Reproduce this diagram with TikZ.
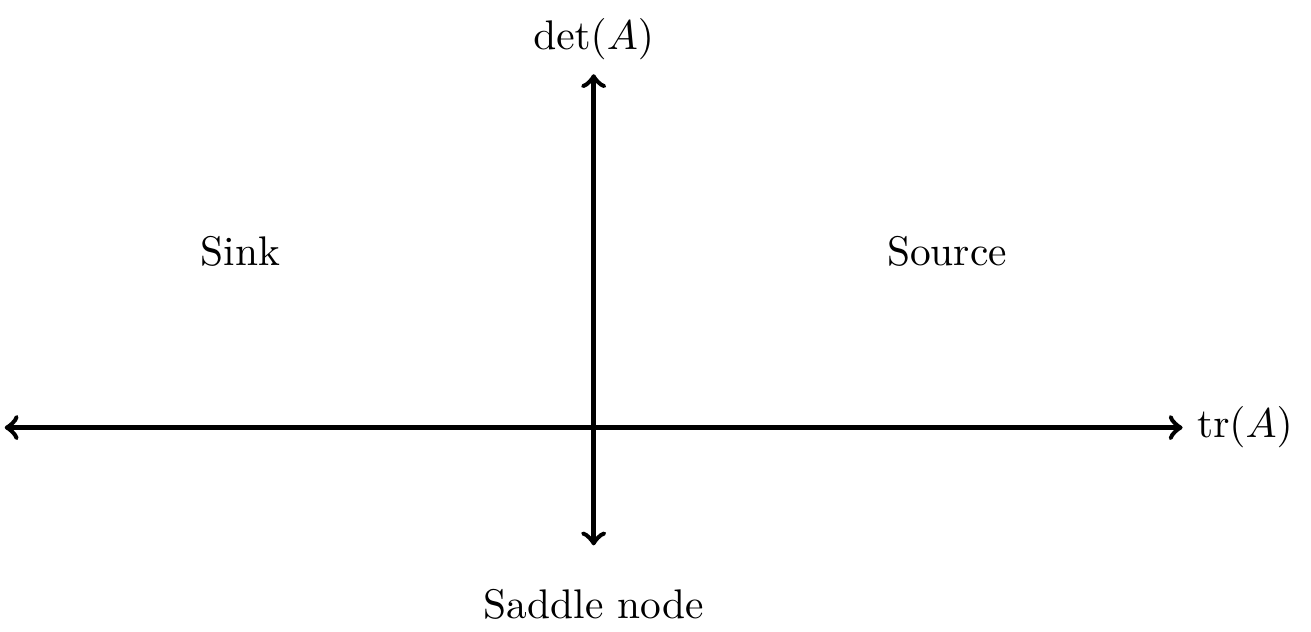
\documentclass[tikz,border=0pt]{standalone}
\usepackage{amsmath}

\begin{document}
\begin{tikzpicture}
    \useasboundingbox (-5.04,-1.73) rectangle (6.09,3.63);
    % Axis end points
    \coordinate (xmin) at (-5,0);
    \coordinate (xmax) at (5,0);
    \coordinate (ymin) at (0,-1);
    \coordinate (ymax) at (0,3);
    % Draw the axes
    \draw[very thick,<->] (xmin) -- (xmax);
    \draw[very thick,<->] (ymin) -- (ymax);
    \node[right] (trace) at (xmax) {$\operatorname{tr}(A)$};
    \node[above] (det) at (ymax) {$\det(A)$};
    % Add region labels
    \node (sink) at (-3,1.5) {Sink};
    \node (source) at (3,1.5) {Source};
    \node (saddle) at (0,-1.5) {Saddle node};
\end{tikzpicture}
\end{document}
